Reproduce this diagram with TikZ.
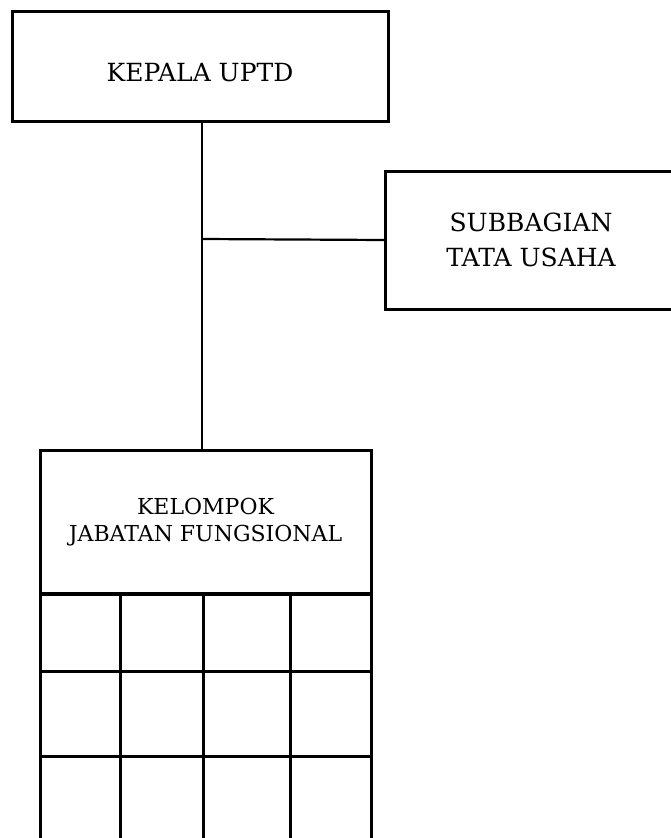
\documentclass[tikz,border=0pt]{standalone}
\usepackage{fontspec}
\setmainfont{DejaVu Serif}
\usetikzlibrary{positioning}

\begin{document}
\begin{tikzpicture}
		[x=1pt, y=-1pt, line width=3pt, box/.style = {draw, rectangle, inner sep=0pt, outer sep=0pt, align=center}]
	\useasboundingbox (0,0) rectangle (671,838);
	\node[box, minimum width=376pt, minimum height=110pt, text height=31pt, text depth=0pt, font=\fontsize{25}{30}\selectfont] (1) at (200,66) {KEPALA UPTD};
	\node[box, minimum width=292pt, minimum height=138pt, font=\fontsize{25}{35}\selectfont] (2) at (531,240) {SUBBAGIAN\\TATA USAHA};
	\node[box, minimum width=331pt, minimum height=144pt, font=\fontsize{22}{27}\selectfont] (3) at (205.5,522) {KELOMPOK\\JABATAN FUNGSIONAL};
	\coordinate (4) at (202,239);
	\draw[line width=2.2pt] (1.south -| 4) -- (3.north -| 4);
	\draw[line width=2.2pt] (4) -- (2.west);
	\draw[line width=4.5pt] (3.south west) -- (3.south east);
	% grid below the box
	\draw (3.south west) -- (3.south west |- 0,845);
	\draw (3.south east) -- (3.south east |- 0,845);
	\foreach \x in {120,203,290}
		\draw (\x,594) -- (\x,845);
	\foreach \y in {671,756}
		\draw (3.west |- 0,\y) -- (3.east |- 0,\y);
\end{tikzpicture}
\end{document}
